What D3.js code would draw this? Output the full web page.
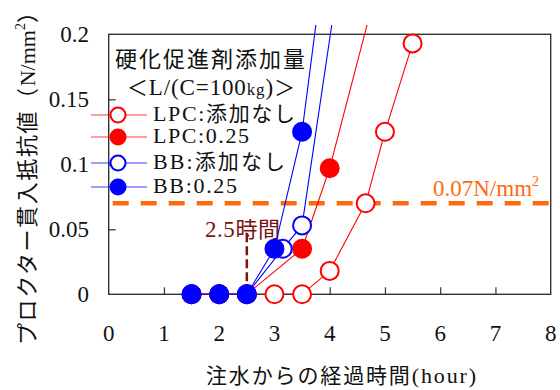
<!DOCTYPE html>
<html>
<head>
<meta charset="utf-8">
<script src="https://cdn.jsdelivr.net/npm/d3@7"></script>
<style>
  body { margin: 0; background: #fff; }
</style>
</head>
<body>
<div id="container"></div>
<script>
// data (hours, N/mm2)
const xTicks = [0, 1, 2, 3, 4, 5, 6, 7, 8];
const yTicks = [0, 0.05, 0.1, 0.15, 0.2];
const yTickLabels = ["0", "0.05", "0.1", "0.15", "0.2"];

const lpcNoneHours = [1.5, 2, 2.5, 3, 3.5, 4, 4.65, 5, 5.5];
const lpcNoneValues = [0, 0, 0, 0, 0, 0.018, 0.07, 0.125, 0.193];
const lpc025Hours = [1.5, 2, 2.5, 3.5, 4, 5];
const lpc025Values = [0, 0, 0, 0.035, 0.097, 0.26];
const bbNoneHours = [1.5, 2, 2.5, 3.15, 3.5, 4.5];
const bbNoneValues = [0, 0, 0, 0.035, 0.053, 0.34];
const bb025Hours = [1.5, 2, 2.5, 3, 3.5, 4];
const bb025Values = [0, 0, 0, 0.035, 0.125, 0.29];

const seriesLabels = ["LPC:添加なし", "LPC:0.25", "BB:添加なし", "BB:0.25"];
const limitValue = 0.07;
const markHour = 2.5;

const red = "#ff0000";
const blue = "#0000ff";
const orange = "#ff6a10";
const darkRed = "#7a1414";
const serif = "Liberation Serif";
const cjk = "Noto Sans CJK JP";

let series = [
  { hours: lpcNoneHours, values: lpcNoneValues, color: red, filled: false },
  { hours: lpc025Hours, values: lpc025Values, color: red, filled: true },
  { hours: bbNoneHours, values: bbNoneValues, color: blue, filled: false },
  { hours: bb025Hours, values: bb025Values, color: blue, filled: true }
];

const W = 560, H = 390;
const plotL = 108.7, plotR = 550.7, plotT = 34.3, plotB = 294.3;

const x = d3.scaleLinear().domain([0, 8]).range([plotL, plotR]);
const y = d3.scaleLinear().domain([0, 0.2]).range([plotB, plotT]);

const svg = d3.select("#container")
  .append("svg")
  .attr("width", W)
  .attr("height", H);

// split a string into latin / japanese runs so each gets its own font
let addRuns = (sel, str, latinSize, cjkSize) => {
  let runs = str.match(/[\u3000-\u30ff\u4e00-\u9fff\uff00-\uffef]+|[^\u3000-\u30ff\u4e00-\u9fff\uff00-\uffef]+/g);
  runs.forEach(r => {
    let jp = /[\u3000-\u30ff\u4e00-\u9fff\uff00-\uffef]/.test(r);
    sel.append("tspan")
      .attr("font-family", jp ? cjk : serif)
      .attr("font-size", jp ? cjkSize : latinSize)
      .text(r);
  });
  return sel;
};

svg.append("defs")
  .append("clipPath")
  .attr("id", "clip")
  .append("rect")
  .attr("x", plotL)
  .attr("y", 25)
  .attr("width", plotR - plotL)
  .attr("height", plotB - 25);

// frame
svg.append("rect")
  .attr("x", plotL)
  .attr("y", plotT)
  .attr("width", plotR - plotL)
  .attr("height", plotB - plotT)
  .attr("fill", "none")
  .attr("stroke", "#333")
  .attr("stroke-width", 1.4);

// inside ticks
let xAxis = svg.append("g")
  .attr("transform", `translate(0,${plotB})`)
  .call(d3.axisTop(x).tickValues(xTicks.slice(1, -1)).tickSize(7).tickFormat(""));
let yAxis = svg.append("g")
  .attr("transform", `translate(${plotL},0)`)
  .call(d3.axisRight(y).tickValues(yTicks.slice(1, -1)).tickSize(7).tickFormat(""));
[xAxis, yAxis].forEach(a => {
  a.select(".domain").remove();
  a.selectAll("line").attr("stroke", "#333").attr("stroke-width", 1.2);
});

// tick labels
svg.append("g")
  .selectAll("text")
  .data(xTicks)
  .join("text")
  .attr("x", d => x(d))
  .attr("y", 341)
  .attr("text-anchor", "middle")
  .attr("font-family", serif)
  .attr("font-size", 23)
  .attr("fill", "#111")
  .text(d => d);

svg.append("g")
  .selectAll("text")
  .data(yTicks)
  .join("text")
  .attr("x", 89)
  .attr("y", d => y(d) + 8)
  .attr("text-anchor", "end")
  .attr("font-family", serif)
  .attr("font-size", 23)
  .attr("fill", "#111")
  .text((d, i) => yTickLabels[i]);

// 0.07 line
svg.append("line")
  .attr("x1", plotL + 4)
  .attr("x2", plotR)
  .attr("y1", y(limitValue))
  .attr("y2", y(limitValue))
  .attr("stroke", orange)
  .attr("stroke-width", 4.5)
  .attr("stroke-dasharray", "16,12");

let lim = svg.append("text")
  .attr("x", 433)
  .attr("y", 196)
  .attr("font-family", serif)
  .attr("font-size", 23)
  .attr("fill", orange);
lim.append("tspan").text("0.07N/mm");
lim.append("tspan").attr("font-size", 14).attr("dy", -10).text("2");

// 2.5 hours marker
svg.append("line")
  .attr("x1", x(markHour))
  .attr("x2", x(markHour))
  .attr("y1", y(0))
  .attr("y2", 231)
  .attr("stroke", darkRed)
  .attr("stroke-width", 2.5)
  .attr("stroke-dasharray", "9,4");

addRuns(svg.append("text")
  .attr("x", 205)
  .attr("y", 237)
  .attr("fill", darkRed)
  .attr("textLength", 75)
  .attr("lengthAdjust", "spacing"), "2.5時間", 23, 22);

// series
let line = d3.line().x(d => x(d[0])).y(d => y(d[1]));

series.forEach(s => {
  let pts = s.hours.map((h, i) => [h, s.values[i]]);
  svg.append("path")
    .attr("d", line(pts))
    .attr("clip-path", "url(#clip)")
    .attr("fill", "none")
    .attr("stroke", s.color)
    .attr("stroke-width", 1.1);
  svg.append("g")
    .selectAll("circle")
    .data(pts.filter(p => p[1] <= 0.2))
    .join("circle")
    .attr("cx", d => x(d[0]))
    .attr("cy", d => y(d[1]))
    .attr("r", 9)
    .attr("fill", s.filled ? s.color : "#fff")
    .attr("stroke", s.color)
    .attr("stroke-width", 2);
});

// legend
let legendRows = [115, 137, 163, 187];
let legendWidths = [142, 96, 132, 84];

addRuns(svg.append("text")
  .attr("x", 115)
  .attr("y", 67)
  .attr("fill", "#111")
  .attr("textLength", 190)
  .attr("lengthAdjust", "spacing"), "硬化促進剤添加量", 22, 22);

let sub = addRuns(svg.append("text")
  .attr("x", 127)
  .attr("y", 95)
  .attr("fill", "#111")
  .attr("textLength", 168)
  .attr("lengthAdjust", "spacing"), "＜L/(C=100", 23, 21);
sub.append("tspan").attr("font-family", serif).attr("font-size", 17).text("kg");
addRuns(sub, ")＞", 23, 21);

series.forEach((s, i) => {
  let g = svg.append("g").attr("transform", `translate(0,${legendRows[i]})`);
  g.append("line")
    .attr("x1", 91)
    .attr("x2", 147)
    .attr("stroke", s.color)
    .attr("stroke-opacity", 0.75)
    .attr("stroke-width", 1.2);
  g.append("circle")
    .attr("cx", 118)
    .attr("r", 7.5)
    .attr("fill", s.filled ? s.color : "#fff")
    .attr("stroke", s.color)
    .attr("stroke-width", 2);
  addRuns(g.append("text")
    .attr("x", 153)
    .attr("y", 6)
    .attr("fill", "#111")
    .attr("textLength", legendWidths[i])
    .attr("lengthAdjust", "spacing"), seriesLabels[i], 22, 21);
});

// axis titles
let yt = addRuns(svg.append("text")
  .attr("transform", "translate(35,345) rotate(-90)")
  .attr("fill", "#111"), "プロクター貫入抵抗値（N/mm", 22, 22);
yt.selectAll("tspan").filter((d, i) => i === 0).attr("letter-spacing", 1.6);
yt.append("tspan").attr("font-family", serif).attr("font-size", 14).attr("dy", -10).text("2");
yt.append("tspan").attr("font-family", cjk).attr("font-size", 22).attr("dy", 10).text("）");

addRuns(svg.append("text")
  .attr("x", 206)
  .attr("y", 383)
  .attr("fill", "#111")
  .attr("textLength", 270)
  .attr("lengthAdjust", "spacing"), "注水からの経過時間(hour)", 22, 21);
</script>
</body>
</html>
